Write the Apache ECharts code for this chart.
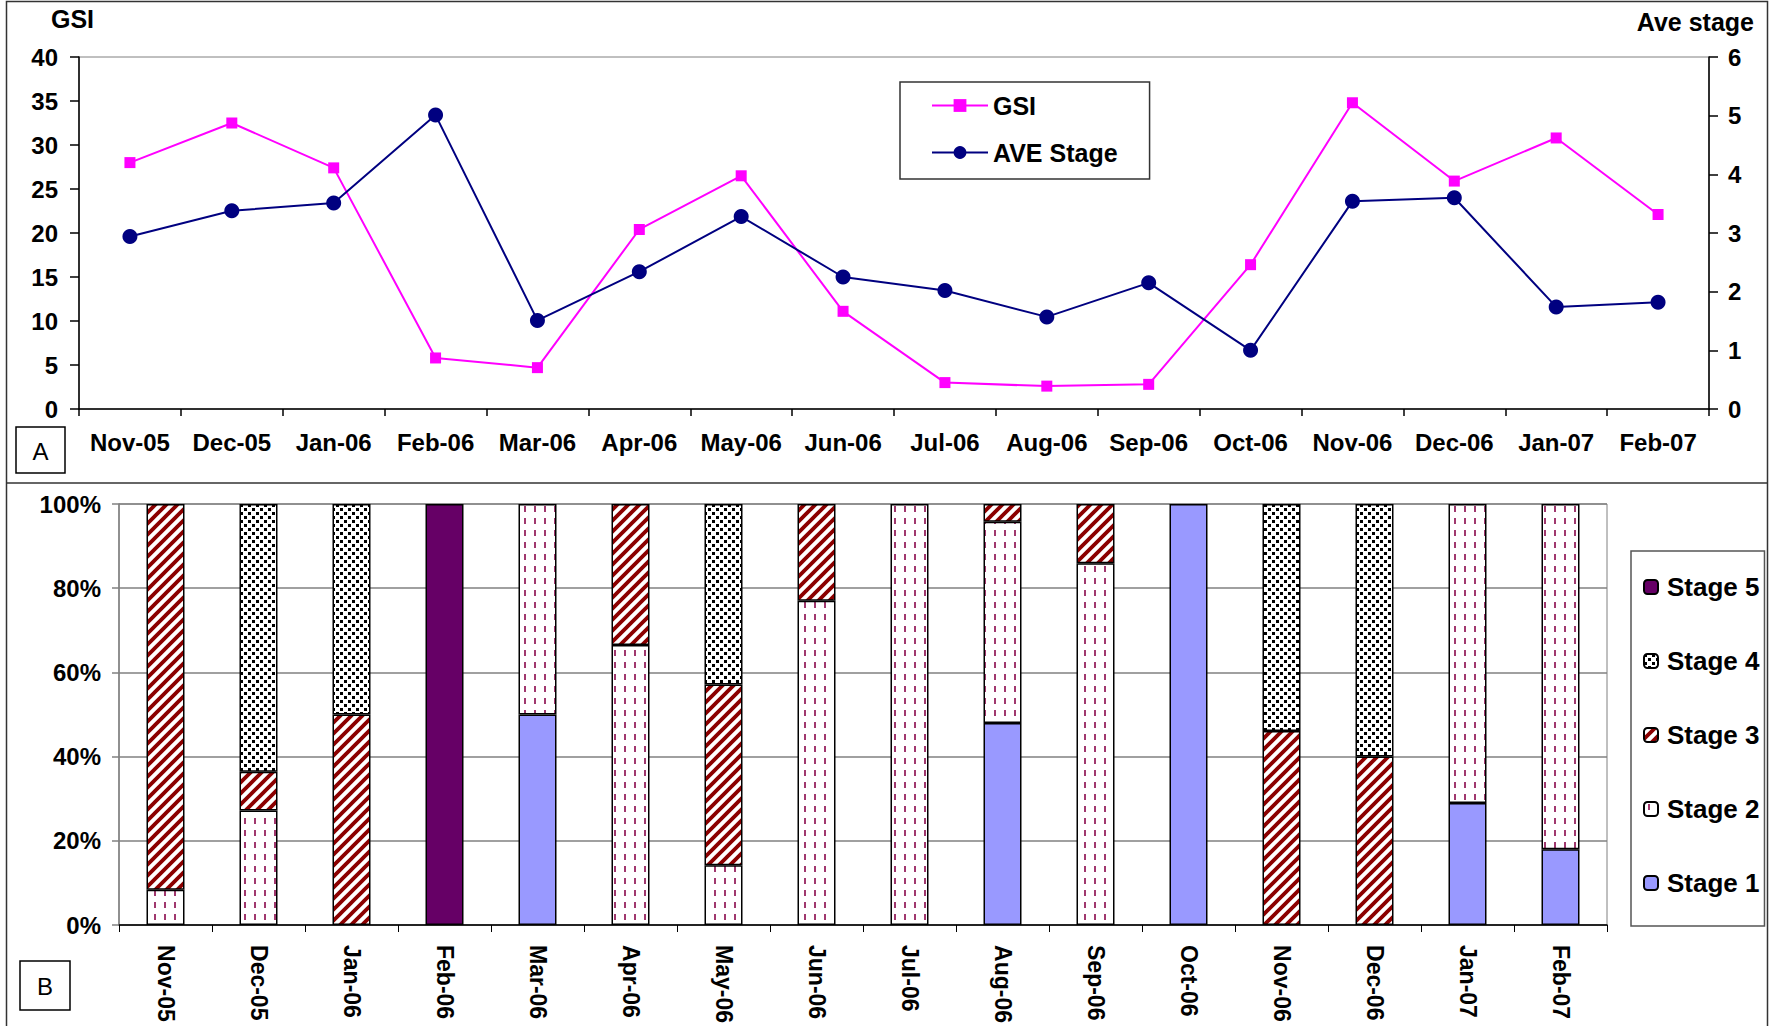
<!DOCTYPE html>
<html><head><meta charset="utf-8">
<script src="https://cdn.jsdelivr.net/npm/echarts@6/dist/echarts.min.js"></script>
<style>html,body{margin:0;padding:0;background:#fff}#c{width:1769px;height:1026px}</style>
</head><body><div id="c"></div>
<script>
// ---- data ----
const months = ['Nov-05','Dec-05','Jan-06','Feb-06','Mar-06','Apr-06','May-06','Jun-06','Jul-06','Aug-06','Sep-06','Oct-06','Nov-06','Dec-06','Jan-07','Feb-07'];
const gsi = [28.0,32.5,27.4,5.8,4.7,20.4,26.5,11.1,3.0,2.6,2.8,16.4,34.8,25.9,30.8,22.1];
const aveStage = [2.94,3.38,3.51,5.01,1.51,2.34,3.28,2.25,2.02,1.57,2.15,1.0,3.54,3.60,1.74,1.82];
const stage1 = [0,0,0,0,50,0,0,0,0,48,0,100,0,0,29,18];
const stage2 = [8.4,27.2,0,0,50,66.5,14.2,77,100,47.8,85.9,0,0,0,71,82];
const stage3 = [91.6,9.2,50,0,0,33.5,42.9,23,0,4.2,14.1,0,46.1,40,0,0];
const stage4 = [0,63.6,50,0,0,0,42.9,0,0,0,0,0,53.9,60,0,0];
const stage5 = [0,0,0,100,0,0,0,0,0,0,0,0,0,0,0,0];
const gsiAxis = {min:0, max:40, step:5};
const stageAxis = {min:0, max:6, step:1};
const pctAxis = {min:0, max:100, step:20};
const stageNames = ['Stage 1','Stage 2','Stage 3','Stage 4','Stage 5'];

// ---- patterns ----
function tile(w,h,draw){
  const c=document.createElement('canvas');c.width=w;c.height=h;
  const g=c.getContext('2d');g.fillStyle='#fff';g.fillRect(0,0,w,h);draw(g);
  return {image:c,repeat:'repeat',imageWidth:w,imageHeight:h};
}
const pat2 = tile(10,12,g=>{g.fillStyle='#A0386E';g.fillRect(4,2,2,6);});
const pat3 = tile(11,11,g=>{g.strokeStyle='#8B0000';g.lineWidth=3.8;g.beginPath();
  g.moveTo(-1,12);g.lineTo(12,-1);g.moveTo(-3,3);g.lineTo(3,-3);g.moveTo(8,14);g.lineTo(14,8);g.stroke();});
const pat4 = tile(8,8,g=>{g.fillStyle='#000';g.fillRect(0,0,3,3);g.fillRect(4,4,3,3);});
const fills = ['#9999FF', pat2, pat3, pat4, '#660066'];
const stageData = [stage1,stage2,stage3,stage4,stage5];

const FONT = "'Liberation Sans', Arial, sans-serif";
const lbl = (size,extra)=>Object.assign({color:'#000',fontFamily:FONT,fontWeight:'bold',fontSize:size},extra||{});
const blk = {color:'#000',width:1.5};

const chart = echarts.init(document.getElementById('c'), null, {renderer:'svg'});
chart.setOption({
  animation:false,
  backgroundColor:'#fff',
  grid:[
    {left:79,right:60,top:57,bottom:617,show:true,borderColor:'#808080',borderWidth:1},
    {left:119,right:162,top:504,bottom:98,show:true,borderColor:'#808080',borderWidth:1}
  ],
  xAxis:[
    {type:'category',gridIndex:0,data:months,boundaryGap:true,
     axisLine:{lineStyle:blk},axisTick:{show:true,length:7,lineStyle:blk},
     axisLabel:lbl(24,{margin:21,interval:0}),splitLine:{show:false}},
    {type:'category',gridIndex:1,data:months,boundaryGap:true,
     axisLine:{lineStyle:{color:'#000',width:1.5}},axisTick:{show:true,length:7,lineStyle:{color:'#000',width:1}},
     axisLabel:lbl(23,{margin:20,rotate:-90,interval:0}),splitLine:{show:false}}
  ],
  yAxis:[
    {type:'value',gridIndex:0,min:gsiAxis.min,max:gsiAxis.max,interval:gsiAxis.step,
     axisLine:{show:true,lineStyle:blk},axisTick:{show:true,length:9,lineStyle:blk},
     axisLabel:lbl(24,{margin:21}),splitLine:{show:false}},
    {type:'value',gridIndex:0,position:'right',min:stageAxis.min,max:stageAxis.max,interval:stageAxis.step,
     axisLine:{show:true,lineStyle:blk},axisTick:{show:true,length:9,lineStyle:blk},
     axisLabel:lbl(24,{margin:19}),splitLine:{show:false}},
    {type:'value',gridIndex:1,min:pctAxis.min,max:pctAxis.max,interval:pctAxis.step,
     axisLine:{show:true,lineStyle:{color:'#808080',width:1.5}},axisTick:{show:true,length:7,lineStyle:{color:'#808080',width:1.5}},
     axisLabel:lbl(24,{margin:18,formatter:'{value}%'}),
     splitLine:{show:true,lineStyle:{color:'#808080',width:1.5}}}
  ],
  legend:[
    {data:['GSI','AVE Stage'],orient:'vertical',left:900,top:82,padding:[11,32,14,31],
     itemWidth:56,itemHeight:16,itemGap:22,borderColor:'#333',borderWidth:1.5,backgroundColor:'#fff',
     textStyle:lbl(25,{lineHeight:24})},
    {data:['Stage 5','Stage 4','Stage 3','Stage 2','Stage 1'],orient:'vertical',left:1631,top:551,padding:[23,5,30,12],
     itemWidth:14,itemHeight:14,itemGap:48,borderColor:'#555',borderWidth:1.5,backgroundColor:'#fff',
     textStyle:lbl(26,{lineHeight:24,padding:[0,0,0,4]})}
  ],
  series:[
    ...stageNames.map((n,i)=>({
      name:n,type:'bar',stack:'s',xAxisIndex:1,yAxisIndex:2,barWidth:38,
      itemStyle:{color:fills[i],borderColor:'#000',borderWidth:1.5},
      data:stageData[i].map(v=>v===0?'-':v)
    })),
    {name:'GSI',type:'line',xAxisIndex:0,yAxisIndex:0,data:gsi,symbol:'rect',symbolSize:11,
     lineStyle:{color:'#FF00FF',width:2},itemStyle:{color:'#FF00FF'},z:3},
    {name:'AVE Stage',type:'line',xAxisIndex:0,yAxisIndex:1,data:aveStage,symbol:'circle',symbolSize:15,
     lineStyle:{color:'#000080',width:2},itemStyle:{color:'#000080'},z:4}
  ],
  graphic:[
    {type:'rect',shape:{x:6.5,y:1.5,width:1761,height:1040},style:{fill:'none',stroke:'#333',lineWidth:1.5},silent:true},
    {type:'line',shape:{x1:6.5,y1:483,x2:1768,y2:483},style:{stroke:'#333',lineWidth:1.5},silent:true},
    {type:'rect',shape:{x:16,y:427,width:49,height:46},style:{fill:'#fff',stroke:'#000',lineWidth:1.5}},
    {type:'text',x:40.5,y:451,style:{text:'A',font:'24px '+FONT,fill:'#000',align:'center',verticalAlign:'middle'}},
    {type:'rect',shape:{x:20,y:961,width:50,height:49},style:{fill:'#fff',stroke:'#000',lineWidth:1.5}},
    {type:'text',x:45,y:986,style:{text:'B',font:'24px '+FONT,fill:'#000',align:'center',verticalAlign:'middle'}},
    {type:'text',x:51,y:19,style:{text:'GSI',font:'bold 25px '+FONT,fill:'#000',align:'left',verticalAlign:'middle'}},
    {type:'text',x:1754,y:22,style:{text:'Ave stage',font:'bold 25px '+FONT,fill:'#000',align:'right',verticalAlign:'middle'}}
  ]
});
</script></body></html>
